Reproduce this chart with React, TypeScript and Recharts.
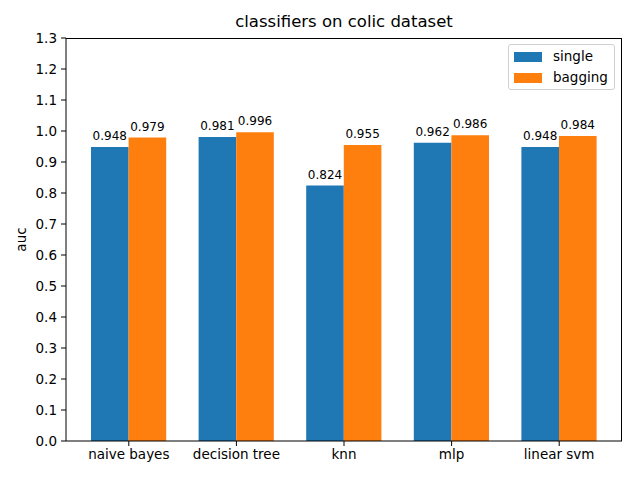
import React from 'react';
import { BarChart, Bar, XAxis, YAxis, LabelList } from 'recharts';

const categories = ['naive bayes', 'decision tree', 'knn', 'mlp', 'linear svm'];
const singleValues = [0.948, 0.981, 0.824, 0.962, 0.948];
const baggingValues = [0.979, 0.996, 0.955, 0.986, 0.984];
const yTicks = [0, 0.1, 0.2, 0.3, 0.4, 0.5, 0.6, 0.7, 0.8, 0.9, 1.0, 1.1, 1.2, 1.3];

const data = categories.map((name, i) => ({ name, single: singleValues[i], bagging: baggingValues[i] }));

const FONT = '"DejaVu Sans", sans-serif';
const BLUE = '#1f77b4';
const ORANGE = '#ff7f0e';

export default function App() {
  return (
    <div style={{ position: 'absolute', left: 0, top: 0, width: 640, height: 480, background: '#fff', fontFamily: FONT }}>
      <BarChart
        width={640}
        height={480}
        data={data}
        margin={{ top: 38, right: 18, bottom: 0, left: 0 }}
        barGap={0}
      >
        <XAxis
          dataKey="name"
          padding={{ left: 9, right: 9 }}
          height={39}
          tickSize={5}
          tickMargin={3}
          stroke="#000"
          tick={{ fill: '#000', fontSize: 13.5, fontFamily: FONT }}
          axisLine={{ stroke: '#000' }}
          tickLine={{ stroke: '#000' }}
        />
        <YAxis
          domain={[0, 1.3]}
          ticks={yTicks}
          interval={0}
          width={66}
          tickSize={5}
          tickMargin={4}
          tickFormatter={(v: number) => v.toFixed(1)}
          tick={{ fill: '#000', fontSize: 13.5, fontFamily: FONT }}
          axisLine={{ stroke: '#000' }}
          tickLine={{ stroke: '#000' }}
          label={{
            content: (props: any) => {
              const vb = props.viewBox || {};
              const cy = (vb.y || 38) + (vb.height || 403) / 2;
              return (
                <text x={26} y={cy} transform={`rotate(-90 26 ${cy})`} textAnchor="middle" fontSize={13.5} fontFamily={FONT} fill="#000">
                  auc
                </text>
              );
            },
          }}
        />
        <Bar dataKey="single" fill={BLUE} barSize={37.6} isAnimationActive={false}>
          <LabelList dataKey="single" position="top" offset={7} formatter={(v: any) => Number(v).toFixed(3)} style={{ fontSize: 12, fontFamily: FONT, fill: '#000' }} />
        </Bar>
        <Bar dataKey="bagging" fill={ORANGE} barSize={37.6} isAnimationActive={false}>
          <LabelList dataKey="bagging" position="top" offset={7} formatter={(v: any) => Number(v).toFixed(3)} style={{ fontSize: 12, fontFamily: FONT, fill: '#000' }} />
        </Bar>
      </BarChart>
      <div style={{ position: 'absolute', left: 66, top: 38, width: 556, height: 1, background: '#000' }} />
      <div style={{ position: 'absolute', left: 621, top: 38, width: 1, height: 403, background: '#000' }} />
      <div style={{ position: 'absolute', left: 66, width: 556, top: 12, textAlign: 'center', fontSize: 16.5, lineHeight: '20px', color: '#000' }}>
        classifiers on colic dataset
      </div>
      <div
        style={{
          position: 'absolute',
          left: 508,
          top: 44,
          width: 105,
          height: 44,
          border: '1px solid #d0d0d0',
          borderRadius: 3,
          background: 'rgba(255,255,255,0.8)',
          fontSize: 13.5,
          color: '#000',
        }}
      >
        <div style={{ position: 'absolute', left: 5, top: 7, width: 28, height: 10, background: BLUE }} />
        <div style={{ position: 'absolute', left: 44, top: 2, lineHeight: '18px' }}>single</div>
        <div style={{ position: 'absolute', left: 5, top: 28, width: 28, height: 10, background: ORANGE }} />
        <div style={{ position: 'absolute', left: 44, top: 23, lineHeight: '18px' }}>bagging</div>
      </div>
    </div>
  );
}
